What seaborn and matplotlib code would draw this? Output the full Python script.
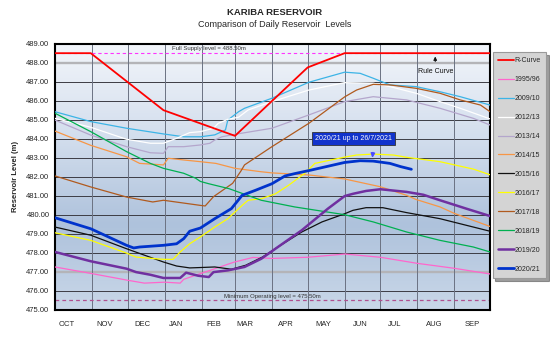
import numpy as np
import pandas as pd
import matplotlib
matplotlib.use("Agg")
import matplotlib.pyplot as plt
import seaborn as sns
from matplotlib.colors import LinearSegmentedColormap

# ---------------- data ----------------
months = ["OCT", "NOV", "DEC", "JAN", "FEB", "MAR", "APR", "MAY", "JUN", "JUL", "AUG", "SEP"]
month_start = [0, 31, 61, 92, 123, 151, 182, 212, 243, 273, 304, 335]
month_label_pos = [10, 42, 73, 102, 133, 159, 194, 225, 256, 285, 318, 350]
yticks = [475, 476, 477, 478, 479, 480, 481, 482, 483, 484, 485, 486, 487, 488, 489]

full_supply = 488.5
min_operating = 475.5

rcurve_day = [0, 30, 91, 151, 212, 243, 365]
rcurve_lvl = [488.5, 488.5, 485.5, 484.15, 487.75, 488.5, 488.5]

y9596_day = [0, 31, 61, 75, 92, 105, 108, 123, 150, 166, 182, 212, 243, 273, 304, 335, 365]
y9596_lvl = [477.25, 476.9, 476.55, 476.4, 476.45, 476.4, 476.6, 476.92, 477.5, 477.75, 477.7,
             477.76, 477.93, 477.76, 477.44, 477.18, 476.88]

y0910_day = [0, 30, 60, 91, 108, 122, 134, 143, 145, 154, 159, 182, 213, 243, 256, 267, 281,
             303, 323, 340, 365]
y0910_lvl = [485.42, 484.9, 484.55, 484.25, 484.1, 484.1, 484.2, 484.46, 484.98, 485.42, 485.6,
             486.13, 486.97, 487.5, 487.44, 487.18, 486.83, 486.74, 486.47, 486.21, 485.77]

y1213_day = [0, 30, 60, 80, 91, 102, 113, 122, 133, 137, 145, 154, 162, 182, 213, 243, 267, 281,
             303, 323, 340, 365]
y1213_lvl = [485.07, 484.6, 483.97, 483.76, 483.76, 484.02, 484.32, 484.37, 484.55, 484.81,
             485.02, 485.13, 485.51, 485.95, 486.56, 486.95, 486.92, 486.74, 486.39, 485.95,
             485.6, 485.04]

y1314_day = [0, 30, 60, 80, 91, 95, 108, 122, 130, 134, 140, 151, 182, 213, 243, 267, 295, 323,
             351, 365]
y1314_lvl = [484.98, 484.19, 483.58, 483.26, 483.23, 483.58, 483.58, 483.67, 483.76, 483.93,
             484.1, 484.23, 484.55, 485.25, 485.95, 486.21, 486.04, 485.6, 485.07, 484.72]

y1415_day = [0, 30, 60, 71, 91, 95, 108, 122, 135, 151, 173, 182, 213, 243, 273, 295, 303, 323,
             335, 365]
y1415_lvl = [484.4, 483.65, 483.05, 482.7, 482.62, 482.97, 482.88, 482.79, 482.7, 482.44, 482.26,
             482.2, 482.09, 481.88, 481.47, 481.02, 480.8, 480.41, 480.07, 479.38]

y1516_day = [0, 30, 60, 91, 102, 113, 122, 134, 148, 160, 174, 187, 207, 224, 243, 250, 261, 275,
             295, 323, 365]
y1516_lvl = [479.35, 478.92, 478.21, 477.51, 477.3, 477.2, 477.22, 477.25, 477.13, 477.34,
             477.77, 478.3, 479.09, 479.62, 480.05, 480.23, 480.37, 480.37, 480.11, 479.79, 479.13]

y1617_day = [0, 30, 60, 68, 91, 99, 105, 113, 122, 134, 145, 157, 162, 173, 185, 196, 210, 218,
             243, 253, 267, 284, 295, 323, 351, 365]
y1617_lvl = [479.05, 478.65, 477.98, 477.77, 477.65, 477.65, 478.04, 478.47, 478.83, 479.35,
             479.79, 480.49, 480.76, 480.84, 481.1, 481.55, 482.2, 482.7, 483.03, 483.14, 483.19,
             483.14, 483.02, 482.79, 482.4, 482.1]

y1718_day = [0, 30, 60, 82, 91, 122, 126, 133, 149, 156, 159, 182, 213, 243, 253, 267, 281, 303,
             323, 340, 357, 365]
y1718_lvl = [482.04, 481.46, 480.93, 480.67, 480.76, 480.49, 480.46, 480.95, 481.65, 482.3,
             482.62, 483.58, 484.81, 486.2, 486.56, 486.86, 486.83, 486.65, 486.39, 486.04,
             485.77, 485.42]

y1819_day = [0, 30, 60, 80, 91, 108, 118, 122, 129, 146, 173, 201, 243, 267, 295, 323, 351, 365]
y1819_lvl = [485.34, 484.37, 483.32, 482.7, 482.44, 482.18, 481.92, 481.75, 481.63, 481.37,
             480.76, 480.41, 480.0, 479.62, 479.09, 478.65, 478.3, 478.04]

y1920_day = [0, 30, 60, 68, 80, 91, 105, 110, 120, 129, 133, 145, 159, 173, 187, 207, 229, 243,
             250, 261, 273, 295, 309, 323, 345, 365]
y1920_lvl = [478.04, 477.55, 477.16, 476.98, 476.84, 476.67, 476.67, 476.95, 476.79, 476.72,
             476.98, 477.07, 477.25, 477.68, 478.3, 479.18, 480.32, 480.98, 481.1, 481.25,
             481.34, 481.2, 481.05, 480.76, 480.32, 479.93]

y2021_day = [0, 30, 60, 66, 71, 91, 102, 108, 113, 122, 134, 148, 157, 168, 182, 193, 201, 215,
             243, 256, 267, 281, 290, 299]
y2021_lvl = [479.84, 479.26, 478.39, 478.25, 478.3, 478.39, 478.47, 478.74, 479.13, 479.3,
             479.79, 480.32, 481.02, 481.28, 481.63, 482.04, 482.16, 482.35, 482.75, 482.84,
             482.82, 482.7, 482.53, 482.39]

series = [
    ("1995/96", y9596_day, y9596_lvl, "#ff66cc", 0.9),
    ("2009/10", y0910_day, y0910_lvl, "#3cb4e6", 0.9),
    ("2012/13", y1213_day, y1213_lvl, "#ffffff", 0.9),
    ("2013/14", y1314_day, y1314_lvl, "#b4a6cc", 0.9),
    ("2014/15", y1415_day, y1415_lvl, "#f79646", 0.9),
    ("2015/16", y1516_day, y1516_lvl, "#111111", 0.9),
    ("2016/17", y1617_day, y1617_lvl, "#ffff00", 0.9),
    ("2017/18", y1718_day, y1718_lvl, "#b05a1e", 0.9),
    ("2018/19", y1819_day, y1819_lvl, "#00b050", 0.9),
    ("2019/20", y1920_day, y1920_lvl, "#7030a0", 1.8),
    ("R-Curve", rcurve_day, rcurve_lvl, "#ff0000", 1.3),
    ("2020/21", y2021_day, y2021_lvl, "#0033cc", 2.0),
]
legend_order = ["R-Curve", "1995/96", "2009/10", "2012/13", "2013/14", "2014/15", "2015/16",
                "2016/17", "2017/18", "2018/19", "2019/20", "2020/21"]

# ---------------- figure ----------------
sns.set_style("white")
plt.rcParams["font.family"] = ["Liberation Sans", "DejaVu Sans"]

fig = plt.figure(figsize=(5.5, 3.48), dpi=100)
ax = fig.add_axes([0.1, 0.110, 0.791, 0.7645])
ax.set_xlim(0, 365)
ax.set_ylim(475, 489)

# gradient background
cmap = LinearSegmentedColormap.from_list(
    "bg", [(0, "#f3f6fb"), (0.35, "#d3deed"), (0.68, "#aec2dc"), (1.0, "#c9d7e8")])
grad = np.linspace(0, 1, 256).reshape(-1, 1)
ax.imshow(grad, extent=[0, 365, 475, 489], aspect="auto", cmap=cmap, origin="upper", zorder=0)

# grid
for yv in yticks:
    ax.axhline(yv, color="#3c3c44", lw=0.7, zorder=1)
for yv in (488, 477):
    ax.axhline(yv, color="#b4b4b8", lw=1.7, zorder=1)
for xv in month_start[1:]:
    ax.axvline(xv, color="#6b7282", lw=0.7, zorder=1)

ax.axhline(full_supply, color="#ff33ff", lw=0.8, ls=(0, (3, 2.5)), zorder=2)
ax.axhline(min_operating, color="#b0508f", lw=0.9, ls=(0, (3, 2.5)), zorder=2)

for name, d, v, col, lw in series:
    sns.lineplot(x=d, y=v, ax=ax, color=col, lw=lw, label=name, zorder=3)

# annotations
ax.text(129, 488.62, "Full Supply level = 488.50m", fontsize=4.3, color="#333333",
        ha="center", va="bottom", zorder=4)
ax.text(182, 475.58, "Minimum Operating level = 475.50m", fontsize=4.3, color="#333333",
        ha="center", va="bottom", zorder=4)
ax.annotate("Rule Curve", xy=(319, 488.47), xytext=(319, 487.55), fontsize=5,
            ha="center", va="center", color="#111111",
            arrowprops=dict(arrowstyle="-|>", color="#111111", lw=0.7, mutation_scale=5))
ax.annotate("", xy=(266, 482.85), xytext=(267, 483.42),
            arrowprops=dict(arrowstyle="-|>", color="#4a4aff", lw=1.0, mutation_scale=6), zorder=5)
ax.text(250.5, 484.02, "2020/21 up to 26/7/2021", fontsize=5, color="white",
        ha="center", va="center", zorder=6,
        bbox=dict(boxstyle="square,pad=0.45", fc="#1133cc", ec="#333333", lw=0.6))

# axes styling
ax.set_yticks(yticks)
ax.set_yticklabels([f"{t:.2f}" for t in yticks], fontsize=5.5)
ax.set_xticks(month_label_pos)
ax.set_xticklabels(months, fontsize=5.5)
ax.tick_params(axis="x", length=0, pad=8)
ax.tick_params(axis="y", length=2, width=0.6, pad=2)
ax.set_xlabel("")
ax.set_ylabel("Reservoir Level (m)", fontsize=5.5, fontweight="bold", labelpad=5)
for sp in ax.spines.values():
    sp.set_visible(True)
    sp.set_color("black")
    sp.set_linewidth(1.5)

# legend
handles, labels = ax.get_legend_handles_labels()
hmap = dict(zip(labels, handles))
ax.get_legend().remove()
leg = fig.legend([hmap[n] for n in legend_order], legend_order, loc="upper left",
                 bbox_to_anchor=(0.8955, 0.8506), fontsize=5, frameon=True,
                 fancybox=False, shadow=True, handlelength=2.3, handletextpad=0.15,
                 labelspacing=1.72, borderpad=0.75, borderaxespad=0)
leg.get_frame().set_facecolor("#d4d4d4")
leg.get_frame().set_edgecolor("#9a9a9a")
leg.get_frame().set_linewidth(0.8)

fig.text(0.5, 0.9655, "KARIBA RESERVOIR", fontsize=6.8, fontweight="bold",
         ha="center", va="center")
fig.text(0.5, 0.931, "Comparison of Daily Reservoir  Levels", fontsize=6.5,
         ha="center", va="center")

fig.savefig("out.png", dpi=100, facecolor="white")
